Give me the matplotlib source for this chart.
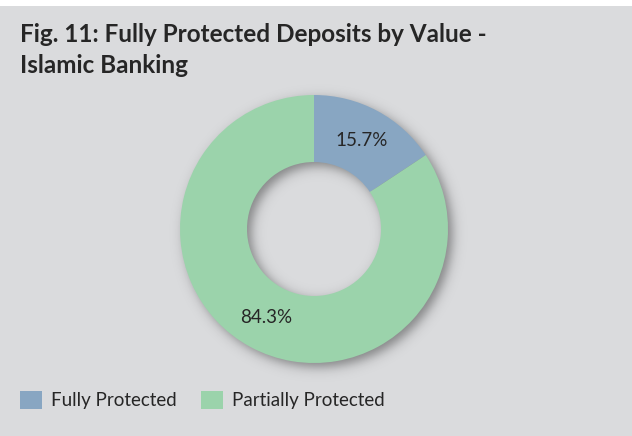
import numpy as np
import matplotlib
matplotlib.use("Agg")
import matplotlib.pyplot as plt
from matplotlib.patches import Rectangle, Patch

labels = ["Fully Protected", "Partially Protected"]
shares = [15.7, 84.3]
colors = ["#88a6c2", "#9bd3ab"]
title_lines = ["Fig. 11: Fully Protected Deposits by Value -", "Islamic Banking"]

W, H = 632, 436
bg = "#dadbdd"
ink = "#262626"
plt.rcParams["font.family"] = ["Lato", "DejaVu Sans"]

fig = plt.figure(figsize=(W / 100, H / 100), dpi=100, facecolor=bg)
# thin white strip along the top edge
fig.patches.append(Rectangle((0, 1 - 6 / H), 1, 6 / H, transform=fig.transFigure,
                             facecolor="white", edgecolor="none"))

# donut centred at (314, 229) px from top-left, outer radius 134 px
cx, cy, R = 314, 229, 134
lim = 1.25
side = 2 * lim * R
ax = fig.add_axes([(cx - side / 2) / W, (H - cy - side / 2) / H, side / W, side / H])
ax.set_xlim(-lim, lim)
ax.set_ylim(-lim, lim)
ax.set_aspect("equal")
ax.axis("off")

# soft drop shadow under the ring, offset down and right
g = np.linspace(-lim, lim, 600)
xx, yy = np.meshgrid(g, g)
r = np.hypot(xx - 0.03, yy + 0.035)
d = np.maximum(r - 1.0, 0.5 - r)
alpha = 0.4 / (1 + np.exp(d / 0.025))
shadow = np.zeros(xx.shape + (4,))
shadow[..., 3] = alpha
ax.imshow(shadow, extent=(-lim, lim, -lim, lim), origin="lower", zorder=0,
          interpolation="bilinear")

wedges, _, autotexts = ax.pie(shares, colors=colors, startangle=90, counterclock=False,
                              radius=1.0, wedgeprops=dict(width=0.5, edgecolor="none"),
                              autopct="%.1f%%", pctdistance=0.75,
                              textprops=dict(fontsize=13.5, color=ink))
for w in wedges:
    w.set_zorder(2)
for t in autotexts:
    t.set_zorder(3)

for line, base in zip(title_lines, [42, 73]):
    fig.text(20 / W, 1 - base / H, line, fontsize=17.5, fontweight="bold", color=ink,
             ha="left", va="baseline")

handles = [Patch(facecolor=c, edgecolor="none") for c in colors]
fig.legend(handles, labels, loc="center left", bbox_to_anchor=(20 / W, 1 - 400 / H),
           ncol=2, frameon=False, fontsize=13.5, labelcolor=ink,
           handlelength=1.17, handleheight=1.17, handletextpad=0.48,
           columnspacing=1.3, borderaxespad=0, borderpad=0)

fig.savefig("out.png", dpi=100, facecolor=bg)
